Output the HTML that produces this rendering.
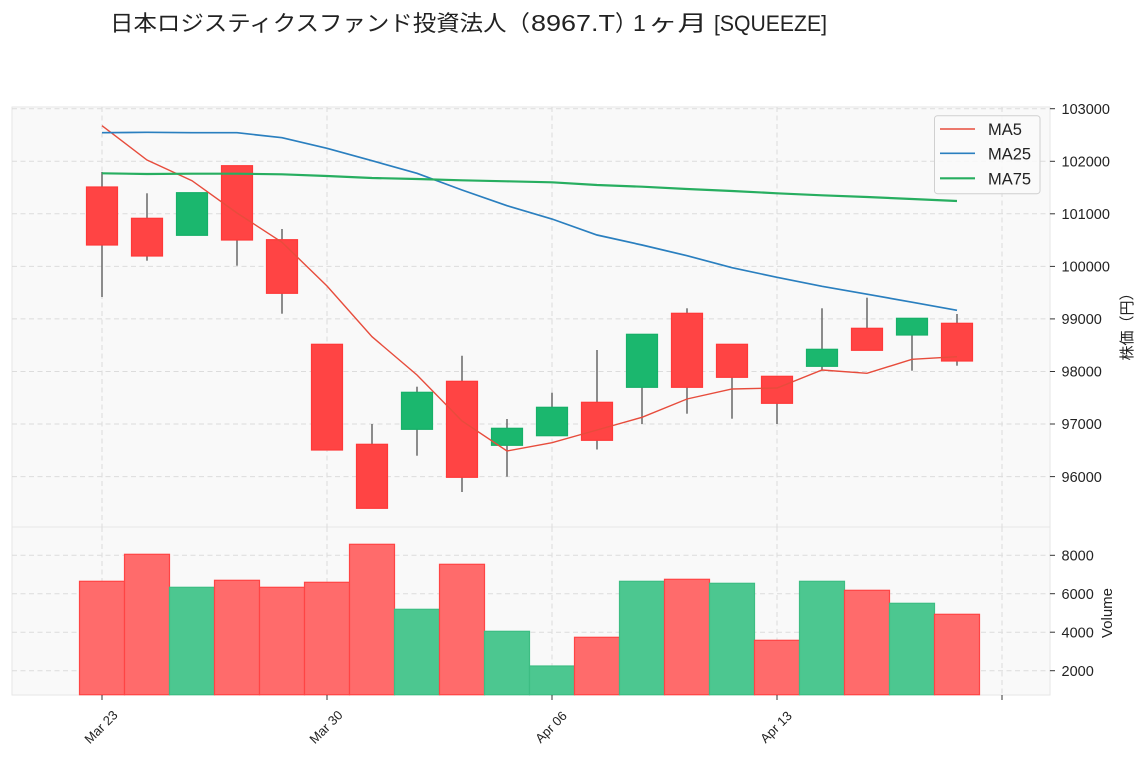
<!DOCTYPE html>
<html><head><meta charset="utf-8">
<style>
html,body{margin:0;padding:0;background:#fff;}
svg{display:block;}
text{font-family:"Liberation Sans","Noto Sans CJK JP",sans-serif;fill:#222;}
.cjk{font-family:"Noto Sans CJK JP","Liberation Sans",sans-serif;}
</style></head>
<body>
<svg width="1146" height="760" viewBox="0 0 1146 760" xmlns="http://www.w3.org/2000/svg">
<rect width="1146" height="760" fill="#fff"/>
<!-- title -->
<text class="cjk" x="110" y="31" font-size="22" textLength="420" lengthAdjust="spacingAndGlyphs">日本ロジスティクスファンド投資法人（</text>
<text x="531" y="31" font-size="23" textLength="84" lengthAdjust="spacingAndGlyphs">8967.T</text>
<text class="cjk" x="615" y="31" font-size="22">）</text>
<text x="633" y="31" font-size="23">1</text>
<text class="cjk" x="648" y="31" font-size="22" textLength="59" lengthAdjust="spacingAndGlyphs">ヶ月</text>
<text x="714" y="31" font-size="22" textLength="113" lengthAdjust="spacingAndGlyphs">[SQUEEZE]</text>

<!-- main panel -->
<rect x="12" y="107" width="1038" height="420" fill="#f9f9f9" stroke="#e6e6e6" stroke-width="1"/>
<!-- volume panel -->
<rect x="12" y="527" width="1038" height="168" fill="#f9f9f9" stroke="#e6e6e6" stroke-width="1"/>

<g stroke="#dcdcdc" stroke-width="1" stroke-dasharray="5,3.5" fill="none">
  <line x1="12" y1="108.7" x2="1050" y2="108.7"/>
  <line x1="12" y1="161.3" x2="1050" y2="161.3"/>
  <line x1="12" y1="213.8" x2="1050" y2="213.8"/>
  <line x1="12" y1="266.4" x2="1050" y2="266.4"/>
  <line x1="12" y1="318.9" x2="1050" y2="318.9"/>
  <line x1="12" y1="371.5" x2="1050" y2="371.5"/>
  <line x1="12" y1="424.0" x2="1050" y2="424.0"/>
  <line x1="12" y1="476.6" x2="1050" y2="476.6"/>
  <line x1="12" y1="555.3" x2="1050" y2="555.3"/>
  <line x1="12" y1="593.7" x2="1050" y2="593.7"/>
  <line x1="12" y1="632.2" x2="1050" y2="632.2"/>
  <line x1="12" y1="670.7" x2="1050" y2="670.7"/>
  <line x1="102" y1="107" x2="102" y2="527"/>
  <line x1="327" y1="107" x2="327" y2="527"/>
  <line x1="552" y1="107" x2="552" y2="527"/>
  <line x1="777" y1="107" x2="777" y2="527"/>
  <line x1="1002" y1="107" x2="1002" y2="527"/>
  <line x1="102" y1="527" x2="102" y2="695"/>
  <line x1="327" y1="527" x2="327" y2="695"/>
  <line x1="552" y1="527" x2="552" y2="695"/>
  <line x1="777" y1="527" x2="777" y2="695"/>
  <line x1="1002" y1="527" x2="1002" y2="695"/>
</g>

<!-- wicks -->
<g stroke="#707070" stroke-width="1.6">
  <line x1="102" y1="172" x2="102" y2="297"/>
  <line x1="147" y1="193.3" x2="147" y2="260.7"/>
  <line x1="237" y1="165.7" x2="237" y2="265.7"/>
  <line x1="282" y1="229" x2="282" y2="313.7"/>
  <line x1="372" y1="424" x2="372" y2="445"/>
  <line x1="417" y1="386.7" x2="417" y2="455.7"/>
  <line x1="462" y1="355.7" x2="462" y2="492"/>
  <line x1="507" y1="419" x2="507" y2="476.7"/>
  <line x1="552" y1="392.7" x2="552" y2="408"/>
  <line x1="597" y1="350" x2="597" y2="449.5"/>
  <line x1="642" y1="387" x2="642" y2="424"/>
  <line x1="687" y1="308.3" x2="687" y2="413.7"/>
  <line x1="732" y1="377" x2="732" y2="418.7"/>
  <line x1="777" y1="403" x2="777" y2="424"/>
  <line x1="822" y1="308.3" x2="822" y2="370"/>
  <line x1="867" y1="297.7" x2="867" y2="329"/>
  <line x1="912" y1="335" x2="912" y2="370.7"/>
  <line x1="957" y1="314" x2="957" y2="365.7"/>
</g>

<!-- bodies -->
<g stroke-width="1.2">
  <rect x="86.5" y="187" width="31" height="58" fill="#ff4444" stroke="#ff3838"/>
  <rect x="131.5" y="218.3" width="31" height="37.7" fill="#ff4444" stroke="#ff3838"/>
  <rect x="176.5" y="192.7" width="31" height="42.6" fill="#1bb76e" stroke="#16b068"/>
  <rect x="221.5" y="165.7" width="31" height="74.3" fill="#ff4444" stroke="#ff3838"/>
  <rect x="266.5" y="239.7" width="31" height="53.6" fill="#ff4444" stroke="#ff3838"/>
  <rect x="311.5" y="344.3" width="31" height="105.7" fill="#ff4444" stroke="#ff3838"/>
  <rect x="356.5" y="444.3" width="31" height="64" fill="#ff4444" stroke="#ff3838"/>
  <rect x="401.5" y="392.3" width="31" height="37" fill="#1bb76e" stroke="#16b068"/>
  <rect x="446.5" y="381.3" width="31" height="96" fill="#ff4444" stroke="#ff3838"/>
  <rect x="491.5" y="428.3" width="31" height="17" fill="#1bb76e" stroke="#16b068"/>
  <rect x="536.5" y="407.3" width="31" height="28.4" fill="#1bb76e" stroke="#16b068"/>
  <rect x="581.5" y="402.3" width="31" height="38" fill="#ff4444" stroke="#ff3838"/>
  <rect x="626.5" y="334.3" width="31" height="53" fill="#1bb76e" stroke="#16b068"/>
  <rect x="671.5" y="313.3" width="31" height="74" fill="#ff4444" stroke="#ff3838"/>
  <rect x="716.5" y="344.3" width="31" height="33" fill="#ff4444" stroke="#ff3838"/>
  <rect x="761.5" y="376.3" width="31" height="27" fill="#ff4444" stroke="#ff3838"/>
  <rect x="806.5" y="349.3" width="31" height="17" fill="#1bb76e" stroke="#16b068"/>
  <rect x="851.5" y="328.3" width="31" height="22" fill="#ff4444" stroke="#ff3838"/>
  <rect x="896.5" y="318.3" width="31" height="16.7" fill="#1bb76e" stroke="#16b068"/>
  <rect x="941.5" y="323.3" width="31" height="37.7" fill="#ff4444" stroke="#ff3838"/>
</g>

<!-- MA lines -->
<polyline fill="none" stroke="#e74c3c" stroke-width="1.4" points="102,125.7 147,160 192,180.7 237,213 282,242.3 327,286 372,336.7 417,375 462,421 507,451 552,442.7 597,430 642,417.3 687,399 732,389 777,388 822,370 867,373.3 912,359.3 957,356.7"/>
<polyline fill="none" stroke="#2a7fbf" stroke-width="1.7" points="102,132.7 147,132.3 192,132.7 237,132.7 282,137.7 327,148.3 372,160.7 417,173.3 462,190 507,205.7 552,219 597,235 642,245 687,255.7 732,267.7 777,277.3 822,286.3 867,294.2 912,302.2 957,310.3"/>
<polyline fill="none" stroke="#27ae60" stroke-width="2.2" points="102,173.3 147,174 192,173.7 237,173.7 282,174.3 327,176 372,178 417,179 462,180.3 507,181.3 552,182.3 597,185 642,186.7 687,189 732,191 777,193.3 822,195.3 867,197 912,199 957,201"/>

<!-- legend -->
<rect x="934.5" y="115.7" width="105.5" height="78" rx="3" fill="#fafafa" fill-opacity="0.85" stroke="#d0d0d0" stroke-width="1"/>
<line x1="940" y1="129" x2="975" y2="129" stroke="#e74c3c" stroke-width="1.6"/>
<line x1="940" y1="153.3" x2="975" y2="153.3" stroke="#2a7fbf" stroke-width="1.7"/>
<line x1="940" y1="178.3" x2="975" y2="178.3" stroke="#27ae60" stroke-width="2.2"/>
<text x="988" y="135" font-size="16.5">MA5</text>
<text x="988" y="159.5" font-size="16.5">MA25</text>
<text x="988" y="184.5" font-size="16.5">MA75</text>

<!-- volume bars -->
<g stroke-width="1.2">
  <rect x="79.5" y="581.3" width="45" height="113.4" fill="#ff6b6b" stroke="#ff4444"/>
  <rect x="124.5" y="554.3" width="45" height="140.4" fill="#ff6b6b" stroke="#ff4444"/>
  <rect x="169.5" y="587.3" width="45" height="107.4" fill="#4cc790" stroke="#3dbd83"/>
  <rect x="214.5" y="580.3" width="45" height="114.4" fill="#ff6b6b" stroke="#ff4444"/>
  <rect x="259.5" y="587.3" width="45" height="107.4" fill="#ff6b6b" stroke="#ff4444"/>
  <rect x="304.5" y="582.3" width="45" height="112.4" fill="#ff6b6b" stroke="#ff4444"/>
  <rect x="349.5" y="544.3" width="45" height="150.4" fill="#ff6b6b" stroke="#ff4444"/>
  <rect x="394.5" y="609.3" width="45" height="85.4" fill="#4cc790" stroke="#3dbd83"/>
  <rect x="439.5" y="564.3" width="45" height="130.4" fill="#ff6b6b" stroke="#ff4444"/>
  <rect x="484.5" y="631.3" width="45" height="63.4" fill="#4cc790" stroke="#3dbd83"/>
  <rect x="529.5" y="666" width="45" height="28.7" fill="#4cc790" stroke="#3dbd83"/>
  <rect x="574.5" y="637.3" width="45" height="57.4" fill="#ff6b6b" stroke="#ff4444"/>
  <rect x="619.5" y="581.3" width="45" height="113.4" fill="#4cc790" stroke="#3dbd83"/>
  <rect x="664.5" y="579.3" width="45" height="115.4" fill="#ff6b6b" stroke="#ff4444"/>
  <rect x="709.5" y="583.3" width="45" height="111.4" fill="#4cc790" stroke="#3dbd83"/>
  <rect x="754.5" y="640.3" width="45" height="54.4" fill="#ff6b6b" stroke="#ff4444"/>
  <rect x="799.5" y="581.3" width="45" height="113.4" fill="#4cc790" stroke="#3dbd83"/>
  <rect x="844.5" y="590.3" width="45" height="104.4" fill="#ff6b6b" stroke="#ff4444"/>
  <rect x="889.5" y="603.3" width="45" height="91.4" fill="#4cc790" stroke="#3dbd83"/>
  <rect x="934.5" y="614.3" width="45" height="80.4" fill="#ff6b6b" stroke="#ff4444"/>
</g>

<!-- right ticks -->
<g stroke="#333" stroke-width="1">
  <line x1="1050" y1="108.7" x2="1055" y2="108.7"/>
  <line x1="1050" y1="161.3" x2="1055" y2="161.3"/>
  <line x1="1050" y1="213.8" x2="1055" y2="213.8"/>
  <line x1="1050" y1="266.4" x2="1055" y2="266.4"/>
  <line x1="1050" y1="318.9" x2="1055" y2="318.9"/>
  <line x1="1050" y1="371.5" x2="1055" y2="371.5"/>
  <line x1="1050" y1="424.0" x2="1055" y2="424.0"/>
  <line x1="1050" y1="476.6" x2="1055" y2="476.6"/>
  <line x1="1050" y1="555.3" x2="1055" y2="555.3"/>
  <line x1="1050" y1="593.7" x2="1055" y2="593.7"/>
  <line x1="1050" y1="632.2" x2="1055" y2="632.2"/>
  <line x1="1050" y1="670.7" x2="1055" y2="670.7"/>
  <line x1="102" y1="695" x2="102" y2="700"/>
  <line x1="327" y1="695" x2="327" y2="700"/>
  <line x1="552" y1="695" x2="552" y2="700"/>
  <line x1="777" y1="695" x2="777" y2="700"/>
  <line x1="1002" y1="695" x2="1002" y2="700"/>
</g>
<g font-size="14.5">
  <text x="1061.5" y="113.9">103000</text>
  <text x="1061.5" y="166.5">102000</text>
  <text x="1061.5" y="219.0">101000</text>
  <text x="1061.5" y="271.6">100000</text>
  <text x="1061.5" y="324.1">99000</text>
  <text x="1061.5" y="376.7">98000</text>
  <text x="1061.5" y="429.2">97000</text>
  <text x="1061.5" y="481.8">96000</text>
  <text x="1061.5" y="560.5">8000</text>
  <text x="1061.5" y="598.9">6000</text>
  <text x="1061.5" y="637.4">4000</text>
  <text x="1061.5" y="675.9">2000</text>
</g>
<text class="cjk" transform="translate(1132,323) rotate(-90)" text-anchor="middle" font-size="15">株価（円）</text>
<text transform="translate(1112,613) rotate(-90)" text-anchor="middle" font-size="15">Volume</text>

<!-- x labels -->
<g font-size="13" text-anchor="middle">
  <text transform="translate(101,727) rotate(-45)" dy="4.5">Mar 23</text>
  <text transform="translate(326,727) rotate(-45)" dy="4.5">Mar 30</text>
  <text transform="translate(551,727) rotate(-45)" dy="4.5">Apr 06</text>
  <text transform="translate(776,727) rotate(-45)" dy="4.5">Apr 13</text>
</g>
</svg>
</body></html>
